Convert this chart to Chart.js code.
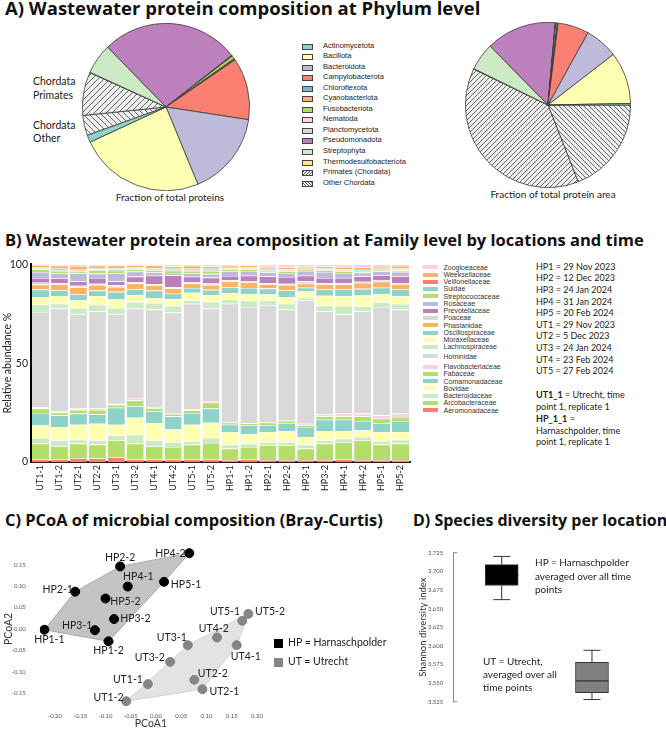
<!DOCTYPE html>
<html lang="en">
<head>
<meta charset="utf-8">
<title>Wastewater protein composition</title>
<script src="https://cdn.jsdelivr.net/npm/chart.js@4.4.0/dist/chart.umd.min.js"></script>
<style>
  body { margin: 0; background: #fff; }
  #page { position: relative; width: 666px; height: 730px; overflow: hidden; font-family: Lato, sans-serif; color: #222; }
  #page canvas { position: absolute; }
  .title { position: absolute; font-family: "Open Sans", sans-serif; font-weight: 700; font-size: 16px; line-height: 20px; color: #111; white-space: nowrap; }
  .txt { position: absolute; white-space: nowrap; line-height: 1.2; }
  .ctr { transform: translateX(-50%); }
  .leg { position: absolute; font-family: "Liberation Sans", Arial, sans-serif; color: #222; }
  .leg div { position: relative; white-space: nowrap; }
  .leg span { position: absolute; left: 0; }
</style>
</head>
<body>
<div id="page">
  <!-- A -->
  <div class="title" style="left:5px;top:-3px;font-size:18.5px;line-height:22px">A) Wastewater protein composition at Phylum level</div>
  <canvas id="pieProteins" width="168" height="168" style="left:82px;top:23px"></canvas>
  <canvas id="pieArea" width="166" height="166" style="left:465px;top:22px"></canvas>
  <div class="txt" style="left:33px;top:75px;font-size:10.5px">Chordata</div>
  <div class="txt" style="left:33px;top:89px;font-size:10.5px">Primates</div>
  <div class="txt" style="left:33px;top:119px;font-size:10.5px">Chordata</div>
  <div class="txt" style="left:33px;top:132px;font-size:10.5px">Other</div>
  <div class="txt ctr" style="left:170px;top:191px;font-size:10px">Fraction of total proteins</div>
  <div class="txt ctr" style="left:553px;top:188px;font-size:10px">Fraction of total protein area</div>
  <div class="leg" id="legendPhyla" style="left:302px;top:40.7px;font-size:7.5px"></div>

  <!-- B -->
  <div class="title" style="left:5px;top:229.5px;font-size:16.5px">B) Wastewater protein area composition at Family level by locations and time</div>
  <canvas id="familyBars" width="415" height="240" style="left:0;top:255px"></canvas>
  <div class="leg" id="legendFamilies" style="left:423px;top:263.7px;font-size:7px;color:#333"></div>
  <div id="dateList"></div>

  <!-- C -->
  <div class="title" style="left:5px;top:510px;font-size:16.4px">C) PCoA of microbial composition (Bray-Curtis)</div>
  <canvas id="pcoa" width="300" height="200" style="left:0;top:530px"></canvas>
  <div style="position:absolute;left:274px;top:639px;width:9px;height:9px;background:#000"></div>
  <div class="txt" style="left:288px;top:636px;font-size:10.5px">HP = Harnaschpolder</div>
  <div style="position:absolute;left:274px;top:658px;width:9px;height:9px;background:#858585"></div>
  <div class="txt" style="left:288px;top:655px;font-size:10.5px">UT = Utrecht</div>

  <!-- D -->
  <div class="title" style="left:413px;top:510px">D) Species diversity per location</div>
  <canvas id="diversity" width="251" height="200" style="left:415px;top:530px"></canvas>
  <div class="txt" style="left:535px;top:556px;font-size:10px">HP = Harnaschpolder</div>
  <div class="txt" style="left:535px;top:570px;font-size:10px">averaged over all time</div>
  <div class="txt" style="left:535px;top:583px;font-size:10px">points</div>
  <div class="txt" style="left:483px;top:655px;font-size:10px">UT = Utrecht,</div>
  <div class="txt" style="left:483px;top:668px;font-size:10px">averaged over all</div>
  <div class="txt" style="left:483px;top:681px;font-size:10px">time points</div>
</div>

<script>
// ---------- A) phylum pies
const phyla = ['Actinomycetota', 'Bacillota', 'Bacteroidota', 'Campylobacterota', 'Chloroflexota',
  'Cyanobacteriota', 'Fusobacteriota', 'Nematoda', 'Planctomycetota', 'Pseudomonadota',
  'Streptophyta', 'Thermodesulfobacteriota', 'Primates (Chordata)', 'Other Chordata'];
const proteinFraction = [1.4, 24.4, 16.4, 12.0, 0.1, 0.2, 0.6, 0.05, 0.1, 26.8, 5.9, 0.05, 8.4, 3.9];
const areaFraction = [0.3, 10.2, 6.5, 6.1, 0.05, 0.1, 0.3, 0.05, 0.05, 13.8, 5.4, 0.1, 38.2, 19.1];
const phylumColours = ['#8dd3c7', '#ffffb3', '#bebada', '#fb8072', '#80b1d3', '#fdb462', '#b3de69',
  '#fccde5', '#d9d9d9', '#bc80bd', '#ccebc5', '#ffed6f', 'hatch/', 'hatch\\'];

// ---------- B) families (legend order, top of the stack first)
const samples = ['UT1-1', 'UT1-2', 'UT2-1', 'UT2-2', 'UT3-1', 'UT3-2', 'UT4-1', 'UT4-2', 'UT5-1', 'UT5-2',
  'HP1-1', 'HP1-2', 'HP2-1', 'HP2-2', 'HP3-1', 'HP3-2', 'HP4-1', 'HP4-2', 'HP5-1', 'HP5-2'];
const families = ['Zoogloeaceae', 'Weeksellaceae', 'Veillonellaceae', 'Suidae', 'Streptococcaceae', 'Rosaceae',
  'Prevotellaceae', 'Poaceae', 'Phasianidae', 'Oscillospiraceae', 'Moraxellaceae', 'Lachnospiraceae',
  'Hominidae', 'Flavobacteriaceae', 'Fabaceae', 'Comamonadaceae', 'Bovidae', 'Bacteroidaceae',
  'Arcobacteraceae', 'Aeromonadaceae'];
const familyColours = ['#fccde5', '#fdb462', '#fb8072', '#8dd3c7', '#b3de69', '#bebada', '#bc80bd', '#d9d9d9',
  '#fdb462', '#8dd3c7', '#ffffb3', '#ccebc5', '#d9d9d9', '#fccde5', '#b3de69', '#8dd3c7', '#ffffb3',
  '#ccebc5', '#b3de69', '#fb8072'];

const zoogloeaceae = [0.3, 0.7, 0.8, 0.6, 0.7, 0.4, 0.6, 1.0, 0.7, 1.0, 0.7, 0.6, 1.3, 1.4, 0.9, 1.1, 1.3, 1.4, 0.8, 0.8];
const weeksellaceae = [1.3, 1.2, 2.0, 1.3, 1.4, 1.2, 1.3, 1.3, 1.5, 1.3, 1.0, 0.9, 1.0, 1.2, 0.8, 1.0, 1.3, 1.0, 1.0, 1.2];
const veillonellaceae = [0.4, 0.8, 0.4, 0.4, 0.5, 0.4, 0.4, 0.4, 0.5, 0.5, 0.4, 0.6, 0.5, 0.5, 0.5, 0.5, 0.5, 0.5, 0.5, 0.5];
const suidae = [0.5, 0.6, 0.5, 0.6, 0.6, 0.5, 0.6, 0.5, 0.6, 0.6, 0.5, 0.5, 0.5, 0.5, 0.5, 0.5, 0.5, 0.5, 0.5, 0.5];
const streptococcaceae = [1.4, 1.3, 0.8, 1.7, 1.3, 1.2, 1.2, 1.2, 1.2, 1.4, 0.9, 0.8, 0.8, 0.8, 0.7, 0.8, 0.8, 0.8, 0.8, 0.8];
const rosaceae = [3.0, 2.4, 4.2, 2.2, 4.2, 2.5, 1.7, 1.2, 1.8, 1.9, 2.4, 2.4, 2.0, 2.0, 2.4, 3.0, 2.5, 1.9, 1.9, 2.2];
const prevotellaceae = [2.4, 2.5, 2.2, 2.9, 1.9, 2.7, 4.2, 6.0, 2.6, 3.0, 2.2, 2.6, 3.4, 3.4, 2.8, 2.7, 2.7, 2.7, 2.7, 3.4];
const poaceae = [1.0, 0.6, 0.8, 0.6, 0.8, 0.7, 0.6, 0.6, 0.7, 0.7, 0.6, 0.6, 0.6, 0.6, 1.2, 0.6, 0.6, 0.6, 0.6, 0.6];
const phasianidae = [2.5, 3.0, 3.4, 2.9, 2.5, 3.0, 2.7, 2.7, 2.4, 2.5, 3.0, 3.0, 2.2, 2.8, 2.0, 2.5, 2.5, 3.0, 3.0, 2.7];
const oscillospiraceae = [3.7, 2.9, 3.0, 2.7, 3.9, 3.0, 3.7, 2.7, 2.4, 2.7, 2.8, 3.0, 3.0, 3.5, 2.0, 3.2, 3.4, 3.4, 3.4, 3.4];
const moraxellaceae = [3.9, 3.9, 3.9, 4.4, 4.2, 3.4, 2.5, 3.4, 3.7, 3.4, 3.2, 3.4, 2.9, 3.2, 3.2, 5.0, 5.0, 5.5, 3.9, 3.9];
const lachnospiraceae = [3.7, 2.5, 3.4, 3.4, 3.4, 3.4, 3.4, 3.4, 1.8, 3.4, 2.2, 3.2, 2.5, 3.0, 1.2, 2.9, 4.2, 2.5, 2.5, 2.9];
const hominidae = [48.1, 52.0, 47.6, 49.0, 45.1, 45.2, 49.3, 50.8, 53.4, 46.7, 59.9, 58.7, 59.1, 56.0, 62.4, 52.1, 50.2, 51.7, 54.8, 52.6];
const flavobacteriaceae = [0.8, 0.6, 0.6, 0.9, 0.6, 1.2, 0.5, 0.5, 0.5, 0.9, 0.3, 0.2, 0.3, 0.3, 0.7, 1.0, 1.4, 1.4, 1.7, 1.7];
const fabaceae = [2.2, 1.4, 1.9, 2.2, 1.4, 2.9, 1.7, 1.2, 1.4, 3.0, 1.0, 0.8, 1.2, 1.1, 1.0, 1.7, 1.7, 2.3, 2.2, 2.0];
const comamonadaceae = [6.4, 5.9, 5.6, 4.7, 8.6, 5.9, 5.9, 6.7, 5.9, 7.1, 3.7, 4.7, 3.5, 4.0, 5.0, 5.7, 5.7, 4.8, 4.5, 5.6];
const bovidae = [6.2, 6.7, 7.6, 8.4, 5.4, 8.6, 8.7, 6.3, 8.3, 7.6, 6.4, 4.7, 5.1, 5.6, 3.9, 4.7, 3.9, 3.3, 4.6, 3.9];
const bacteroidaceae = [2.9, 3.1, 2.0, 2.2, 2.5, 4.5, 3.1, 2.5, 1.8, 2.7, 2.0, 1.7, 1.6, 1.6, 2.0, 1.7, 1.7, 1.7, 1.8, 2.0];
const arcobacteraceae = [7.8, 6.4, 7.3, 7.0, 8.5, 7.8, 6.4, 6.1, 7.3, 8.1, 5.8, 6.1, 7.5, 7.5, 5.8, 8.3, 8.6, 10.0, 7.8, 8.3];
const aeromonadaceae = [1.5, 1.5, 2.0, 1.8, 2.5, 1.5, 1.5, 1.5, 1.5, 1.5, 1.0, 1.5, 1.0, 1.0, 1.0, 1.0, 1.5, 1.0, 1.0, 1.0];
const familyValues = [zoogloeaceae, weeksellaceae, veillonellaceae, suidae, streptococcaceae, rosaceae,
  prevotellaceae, poaceae, phasianidae, oscillospiraceae, moraxellaceae, lachnospiraceae, hominidae,
  flavobacteriaceae, fabaceae, comamonadaceae, bovidae, bacteroidaceae, arcobacteraceae, aeromonadaceae];
const percentTicks = [0, 50, 100];

const sampleDates = ['HP1 = 29 Nov 2023', 'HP2 = 12 Dec 2023', 'HP3 = 24 Jan 2024', 'HP4 = 31 Jan 2024',
  'HP5 = 20 Feb 2024', 'UT1 = 29 Nov 2023', 'UT2 = 5 Dec 2023', 'UT3 = 24 Jan 2024', 'UT4 = 23 Feb 2024',
  'UT5 = 27 Feb 2024'];

// ---------- C) PCoA
const hpSamples = ['HP1-1', 'HP1-2', 'HP2-1', 'HP2-2', 'HP3-1', 'HP3-2', 'HP4-1', 'HP4-2', 'HP5-1', 'HP5-2'];
const hpPcoa1 = [-0.221, -0.094, -0.160, -0.071, -0.121, -0.083, -0.056, 0.066, 0.016, -0.100];
const hpPcoa2 = [-0.002, -0.029, 0.087, 0.146, -0.003, 0.023, 0.099, 0.177, 0.110, 0.071];
const utSamples = ['UT1-1', 'UT1-2', 'UT2-1', 'UT2-2', 'UT3-1', 'UT3-2', 'UT4-1', 'UT4-2', 'UT5-1', 'UT5-2'];
const utPcoa1 = [-0.016, -0.059, 0.092, 0.076, 0.063, 0.028, 0.160, 0.121, 0.171, 0.183];
const utPcoa2 = [-0.129, -0.169, -0.141, -0.119, -0.038, -0.077, -0.038, -0.020, 0.019, 0.035];
const hpHull = ['HP1-1', 'HP2-1', 'HP2-2', 'HP4-2', 'HP5-1', 'HP1-2'];
const utHull = ['UT1-2', 'UT3-2', 'UT3-1', 'UT5-2', 'UT4-1', 'UT2-1'];
const pcoa1Ticks = [-0.20, -0.15, -0.10, -0.05, 0, 0.05, 0.10, 0.15, 0.20];
const pcoa2Ticks = [-0.15, -0.10, -0.05, 0, 0.05, 0.10, 0.15];
// where each sample name sits relative to its dot (px)
const hpLabelShift = [[5, 10], [0, 9.5], [-17.5, -1.7], [0, -9], [-17.7, -4.7], [21.3, 0], [10.6, -10], [-18.8, 0], [22, 2.7], [20, 2.7]];
const utLabelShift = [[-20, -4.7], [-17.7, -3.3], [22, 2], [18.4, -6.6], [-16, -7.3], [-20.3, -4.7], [9, 11], [-3.3, -8.7], [-17.3, -9], [21.7, -2.7]];

// ---------- D) Shannon diversity
const boxGroups = ['HP', 'UT'];
const boxLow = [3.662, 3.528];
const boxQ1 = [3.681, 3.537];
const boxMedian = [3.695, 3.553];
const boxQ3 = [3.709, 3.578];
const boxHigh = [3.720, 3.594];
const shannonTicks = [3.525, 3.550, 3.575, 3.600, 3.625, 3.650, 3.675, 3.700, 3.725];
const boxFill = ['#000000', '#808080'];
const medianColour = ['#000000', '#333333'];

Chart.defaults.font.family = 'Lato';
Chart.defaults.color = '#222';
Chart.defaults.animation = false;
Chart.defaults.plugins.legend.display = false;
Chart.defaults.plugins.tooltip.enabled = false;

function hatch(dir, size) {
  const c = document.createElement('canvas');
  c.width = size; c.height = size;
  const g = c.getContext('2d');
  g.fillStyle = '#eeeeee';
  g.fillRect(0, 0, size, size);
  g.strokeStyle = '#555';
  g.lineWidth = 0.9;
  g.beginPath();
  for (let k = -1; k <= 1; k++) {
    if (dir === '/') { g.moveTo(k * size, size); g.lineTo(k * size + size, 0); }
    else { g.moveTo(k * size, 0); g.lineTo(k * size + size, size); }
  }
  g.stroke();
  return g.createPattern(c, 'repeat');
}

function fillFor(col, size) {
  if (col.startsWith('hatch')) return hatch(col.slice(5), size);
  return col;
}

function drawPie(id, values, startDeg, hatchSize) {
  // matplotlib draws counter-clockwise, chart.js clockwise: reverse the order
  const idx = values.map((v, i) => i).reverse();
  new Chart(document.getElementById(id), {
    type: 'pie',
    data: {
      labels: idx.map(i => phyla[i]),
      datasets: [{
        data: idx.map(i => values[i]),
        backgroundColor: idx.map(i => fillFor(phylumColours[i], hatchSize)),
        borderColor: '#3a3a3a',
        borderWidth: 0.8
      }]
    },
    options: { responsive: false, rotation: startDeg, layout: { padding: 0 } }
  });
}
drawPie('pieProteins', proteinFraction, 250.2, 6);
drawPie('pieArea', areaFraction, 90, 5);

// legend A
const legA = document.getElementById('legendPhyla');
phyla.forEach((name, i) => {
  const row = document.createElement('div');
  row.style.height = '10.54px';
  row.style.lineHeight = '10.54px';
  row.style.paddingLeft = '21px';
  const sw = document.createElement('span');
  sw.style.cssText = 'top:3px;width:9px;height:4px;border:0.7px solid #444;';
  const col = phylumColours[i];
  if (col.startsWith('hatch')) {
    const ang = col.endsWith('/') ? -45 : 45;
    sw.style.background = 'repeating-linear-gradient(' + ang + 'deg,#eee 0 1.5px,#555 1.5px 2.3px)';
  } else sw.style.background = col;
  row.appendChild(sw);
  row.appendChild(document.createTextNode(name));
  legA.appendChild(row);
});

// B) stacked bars
const barSets = families.map((f, i) => ({
  label: f,
  data: familyValues[i],
  backgroundColor: familyColours[i],
  borderColor: 'rgba(255,255,255,0.75)',
  borderWidth: { top: 0.6, bottom: 0, left: 0, right: 0 },
  borderSkipped: false,
  barPercentage: 0.9,
  categoryPercentage: 1
})).reverse();

new Chart(document.getElementById('familyBars'), {
  type: 'bar',
  data: { labels: samples, datasets: barSets },
  options: {
    responsive: false,
    layout: { padding: { top: 9, right: 5 } },
    scales: {
      x: {
        stacked: true,
        grid: { display: false, drawTicks: false },
        border: { color: '#2a1a10', width: 2 },
        ticks: { autoSkip: false, minRotation: 90, maxRotation: 90, padding: 3, font: { size: 9 }, color: '#222' },
        afterFit: s => { s.height = 33; }
      },
      y: {
        stacked: true, min: 0, max: 100,
        afterBuildTicks: s => { s.ticks = percentTicks.map(v => ({ value: v })); },
        grid: { display: false, drawTicks: false },
        border: { color: '#000', width: 2 },
        ticks: { padding: 3, font: { size: 10.5 }, color: '#222' },
        title: { display: true, text: 'Relative abundance %', font: { size: 10.5 }, color: '#222', padding: 1 },
        afterFit: s => { s.width = 31; }
      }
    }
  }
});

// legend B
const legB = document.getElementById('legendFamilies');
families.forEach((name, i) => {
  const row = document.createElement('div');
  row.style.height = '7.25px';
  row.style.lineHeight = '7.25px';
  row.style.paddingLeft = '20.5px';
  if (name === 'Hominidae') row.style.marginTop = '2px';
  if (name === 'Flavobacteriaceae') row.style.marginTop = '3.2px';
  const sw = document.createElement('span');
  sw.style.cssText = 'top:1.6px;width:14.5px;height:4px;background:' + familyColours[i];
  row.appendChild(sw);
  row.appendChild(document.createTextNode(name));
  legB.appendChild(row);
});

// date list
const dl = document.getElementById('dateList');
sampleDates.forEach((t, k) => {
  const d = document.createElement('div');
  d.className = 'txt';
  d.style.cssText = 'left:536px;font-size:9px;top:' + (268.3 + 11.6 * k - 6.5) + 'px';
  d.textContent = t;
  dl.appendChild(d);
});
const notes = [['UT1_1', ' = Utrecht, time'], ['', 'point 1, replicate 1'], ['HP_1_1', ' ='],
  ['', 'Harnaschpolder, time'], ['', 'point 1, replicate 1']];
notes.forEach((n, k) => {
  const d = document.createElement('div');
  d.className = 'txt';
  d.style.cssText = 'left:536px;font-size:9px;top:' + (396.7 + 11.8 * k - 6.5) + 'px';
  if (n[0]) { const b = document.createElement('b'); b.textContent = n[0]; d.appendChild(b); }
  d.appendChild(document.createTextNode(n[1]));
  dl.appendChild(d);
});

// C) PCoA
function pts(xs, ys) { return xs.map((x, i) => ({ x: x, y: ys[i] })); }
function hullPts(names, all, xs, ys) {
  const p = names.map(n => { const i = all.indexOf(n); return { x: xs[i], y: ys[i] }; });
  p.push(p[0]);
  return p;
}

const sampleLabels = {
  id: 'sampleLabels',
  afterDatasetsDraw(chart) {
    const ctx = chart.ctx;
    ctx.save();
    ctx.font = '10.5px Lato';
    ctx.fillStyle = '#222';
    ctx.textAlign = 'center';
    ctx.textBaseline = 'middle';
    chart.data.datasets.forEach((ds, di) => {
      if (!ds.names) return;
      chart.getDatasetMeta(di).data.forEach((el, i) => {
        ctx.fillText(ds.names[i], el.x + ds.shift[i][0], el.y + ds.shift[i][1]);
      });
    });
    ctx.restore();
  }
};

new Chart(document.getElementById('pcoa'), {
  type: 'scatter',
  data: {
    datasets: [
      { label: 'HP', data: pts(hpPcoa1, hpPcoa2), names: hpSamples, shift: hpLabelShift,
        backgroundColor: '#000', borderColor: '#000', pointRadius: 4.5 },
      { label: 'UT', data: pts(utPcoa1, utPcoa2), names: utSamples, shift: utLabelShift,
        backgroundColor: '#858585', borderColor: '#858585', pointRadius: 4.5 },
      { type: 'line', data: hullPts(hpHull, hpSamples, hpPcoa1, hpPcoa2), fill: 'shape',
        backgroundColor: '#c3c3c3', borderColor: '#a8a8a8', borderWidth: 1, pointRadius: 0, tension: 0 },
      { type: 'line', data: hullPts(utHull, utSamples, utPcoa1, utPcoa2), fill: 'shape',
        backgroundColor: '#e3e3e3', borderColor: '#d2d2d2', borderWidth: 1, pointRadius: 0, tension: 0 }
    ]
  },
  options: {
    responsive: false,
    layout: { padding: { top: 14.2, right: 38 } },
    scales: {
      x: {
        min: -0.23, max: 0.21,
        afterBuildTicks: s => { s.ticks = pcoa1Ticks.map(v => ({ value: v })); },
        grid: { display: false, drawTicks: false },
        border: { display: false },
        ticks: { padding: 2, font: { size: 6 }, color: '#555', callback: v => v.toFixed(2) },
        title: { display: true, text: 'PCoA1', font: { size: 10.5 }, color: '#333', padding: 0 },
        afterFit: s => { s.height = 19.8; }
      },
      y: {
        min: -0.19, max: 0.19,
        afterBuildTicks: s => { s.ticks = pcoa2Ticks.map(v => ({ value: v })); },
        grid: { display: false, drawTicks: false },
        border: { display: false },
        ticks: { padding: 14, font: { size: 6 }, color: '#555', callback: v => v.toFixed(2) },
        title: { display: true, text: 'PCoA2', font: { size: 10.5 }, color: '#333', padding: 2 },
        afterFit: s => { s.width = 39.85; }
      }
    }
  },
  plugins: [sampleLabels]
});

// D) box plot
const boxParts = {
  id: 'boxParts',
  beforeDatasetsDraw(chart) {
    const { ctx, scales: { x, y } } = chart;
    ctx.save();
    ctx.strokeStyle = '#333';
    ctx.lineWidth = 1;
    ctx.beginPath();
    boxGroups.forEach((g, i) => {
      const px = x.getPixelForValue(i + 1);
      ctx.moveTo(px, y.getPixelForValue(boxHigh[i])); ctx.lineTo(px, y.getPixelForValue(boxQ3[i]));
      ctx.moveTo(px, y.getPixelForValue(boxQ1[i])); ctx.lineTo(px, y.getPixelForValue(boxLow[i]));
      [boxHigh[i], boxLow[i]].forEach(v => {
        const py = y.getPixelForValue(v);
        ctx.moveTo(px - 8.5, py); ctx.lineTo(px + 8.5, py);
      });
    });
    ctx.stroke();
    ctx.restore();
  },
  afterDatasetsDraw(chart) {
    const { ctx, scales: { x, y }, chartArea } = chart;
    ctx.save();
    ctx.lineWidth = 1.3;
    boxGroups.forEach((g, i) => {
      const px = x.getPixelForValue(i + 1), py = y.getPixelForValue(boxMedian[i]);
      ctx.strokeStyle = medianColour[i];
      ctx.beginPath();
      ctx.moveTo(px - 16.5, py); ctx.lineTo(px + 16.5, py);
      ctx.stroke();
    });
    // bracket ends of the axis
    ctx.strokeStyle = '#888';
    ctx.lineWidth = 1;
    ctx.beginPath();
    ctx.moveTo(chartArea.left, chartArea.top); ctx.lineTo(chartArea.left + 4, chartArea.top);
    ctx.moveTo(chartArea.left, chartArea.bottom); ctx.lineTo(chartArea.left + 4, chartArea.bottom);
    ctx.stroke();
    ctx.restore();
  }
};

new Chart(document.getElementById('diversity'), {
  type: 'bar',
  data: {
    datasets: [{
      data: boxGroups.map((g, i) => ({ x: i + 1, y: [boxQ1[i], boxQ3[i]] })),
      backgroundColor: boxFill,
      borderColor: ['#3a3a3a', '#333333'],
      borderWidth: 1,
      borderSkipped: false,
      barThickness: 33
    }]
  },
  options: {
    responsive: false,
    layout: { padding: { top: 22.7, bottom: 28.3, right: 11 } },
    scales: {
      x: { type: 'linear', min: 0.464, max: 2.698, offset: false, display: false },
      y: {
        min: 3.525, max: 3.725,
        afterBuildTicks: s => { s.ticks = shannonTicks.map(v => ({ value: v })); },
        grid: { display: false, drawTicks: false },
        border: { color: '#888', width: 1 },
        ticks: { padding: 10, font: { size: 6 }, color: '#555', callback: v => v.toFixed(3) },
        title: { display: true, text: 'Shannon diversity index', font: { size: 9.5 }, color: '#333', padding: 2 },
        afterFit: s => { s.width = 38.3; }
      }
    }
  },
  plugins: [boxParts]
});
</script>
</body>
</html>
